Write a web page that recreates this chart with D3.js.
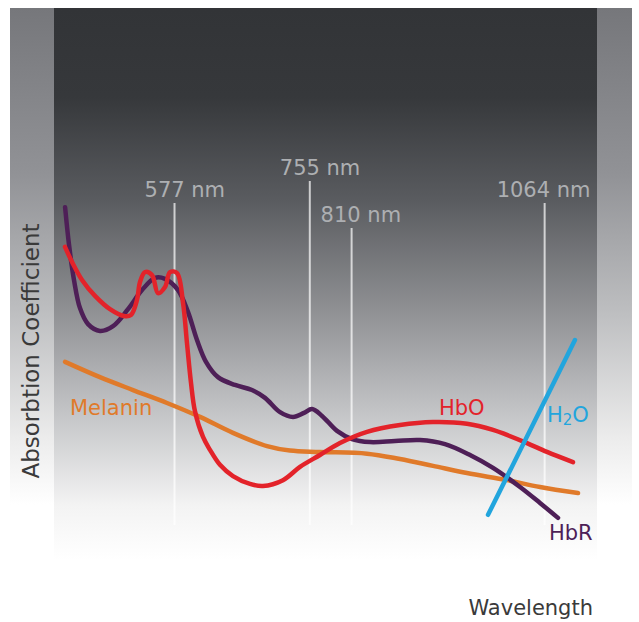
<!DOCTYPE html>
<html>
<head>
<meta charset="utf-8">
<script src="https://cdn.jsdelivr.net/npm/d3@7"></script>
<style>
  html, body { margin: 0; padding: 0; background: #fff; }
  svg text { font-family: "DejaVu Sans", sans-serif; }
</style>
</head>
<body>
<div id="chart"></div>
<script>
// wavelength marker lines (nm)
const markers = [577, 755, 810, 1064];

// absorption curves, [wavelength nm, relative absorption]
const hbr = [
  [433, 97.9], [438.2, 86.8], [444.7, 76.5], [452.6, 68.2], [463.2, 63.5], [478.9, 61.5],
  [496.1, 62.9], [515.8, 67.9], [534.2, 73.5], [551.3, 77.1], [564.5, 76.8], [581.6, 73.5],
  [594.7, 67.1], [606.6, 58.8], [618.4, 52.4], [634.2, 47.9], [656.6, 45.6], [678.9, 44.1],
  [696.1, 41.8], [715.8, 37.6], [732.9, 36.2], [747.4, 37.4], [757.9, 38.5], [771.1, 36.5],
  [790.8, 32.1], [810.5, 29.7], [834.2, 28.8], [867.1, 29.1], [900, 29.4], [932.9, 28.2],
  [965.8, 25.0], [996.1, 21.2], [1031.6, 15.6], [1057.9, 10.9], [1081.6, 6.5]
];
const hbo = [
  [432.9, 86.2], [442.1, 81.8], [455.3, 76.5], [472.4, 71.8], [492.1, 67.9], [510.5, 65.9],
  [519.7, 66.2], [527.6, 70.6], [531.6, 75.9], [538.2, 78.8], [547.4, 77.9], [555.3, 72.6],
  [564.5, 74.4], [571.1, 78.8], [580.3, 78.5], [588.2, 69.7], [593.4, 57.9], [598.7, 46.2],
  [603.9, 37.9], [614.5, 30.3], [623.7, 26.5], [636.8, 22.1], [653.9, 18.8], [676.3, 16.5],
  [693.4, 15.9], [719.7, 17.6], [742.1, 21.5], [768.4, 25.0], [794.7, 28.5], [830.3, 31.8],
  [873.7, 33.8], [917.1, 34.7], [961.8, 34.2], [996.1, 32.4], [1014.5, 30.9], [1040.8, 28.5],
  [1067.1, 25.9], [1101.3, 22.9]
];
const melanin = [
  [433, 52.4], [478.9, 47.9], [522.4, 44.1], [567.1, 40.3], [610.5, 36.2], [653.9, 31.5],
  [698.7, 27.6], [728.9, 26.3], [768.4, 25.9], [830.3, 25.4], [873.7, 23.8], [917.1, 21.8],
  [961.8, 19.7], [1014.5, 17.6], [1057.9, 15.6], [1107.9, 13.8]
];
const water = [[989.5, 7.4], [1103.9, 58.8]];

const width = 639, height = 622;

const svg = d3.select("#chart")
  .append("svg")
  .attr("width", width)
  .attr("height", height);

const x = d3.scaleLinear().domain([400, 1200]).range([40, 648]);
const y = d3.scaleLinear().domain([0, 100]).range([540, 200]);

// background gradients
const defs = svg.append("defs");
const outer = defs.append("linearGradient").attr("id", "outerG")
  .attr("x1", 0).attr("y1", 0).attr("x2", 0).attr("y2", 1);
[[0, "#76777b"], [0.3, "#919296"], [0.55, "#bdbec0"], [0.78, "#ececec"], [0.9, "#ffffff"], [1, "#ffffff"]]
  .forEach(s => outer.append("stop").attr("offset", s[0]).attr("stop-color", s[1]));
const inner = defs.append("linearGradient").attr("id", "innerG")
  .attr("x1", 0).attr("y1", 0).attr("x2", 0).attr("y2", 1);
[[0, "#323437"], [0.16, "#36383b"], [0.35, "#5a5c60"], [0.55, "#909194"], [0.75, "#c8c9cb"], [0.9, "#f3f3f3"], [1, "#ffffff"]]
  .forEach(s => inner.append("stop").attr("offset", s[0]).attr("stop-color", s[1]));

svg.append("rect").attr("x", 10).attr("y", 8).attr("width", 622).attr("height", 552)
  .attr("fill", "url(#outerG)");
svg.append("rect").attr("x", 54).attr("y", 8).attr("width", 543).attr("height", 552)
  .attr("fill", "url(#innerG)");

// marker lines + labels
const markerTop = {577: 203, 755: 181, 810: 228, 1064: 203};
const labelDx = {577: -30, 755: -30, 810: -31, 1064: -48};
svg.append("g").selectAll("line")
  .data(markers)
  .join("line")
  .attr("x1", d => x(d)).attr("x2", d => x(d))
  .attr("y1", d => markerTop[d]).attr("y2", 525)
  .attr("stroke", "#ffffff")
  .attr("stroke-opacity", 0.7)
  .attr("stroke-width", 2);
svg.append("g").selectAll("text")
  .data(markers)
  .join("text")
  .attr("x", d => x(d) + labelDx[d])
  .attr("y", d => markerTop[d] - 6)
  .attr("fill", "#adafb2")
  .attr("font-size", 21)
  .text(d => d + " nm");

// curves
const line = d3.line()
  .x(d => x(d[0]))
  .y(d => y(d[1]))
  .curve(d3.curveCatmullRom.alpha(0.5));

const series = [
  {data: melanin, color: "#e07a2a"},
  {data: hbr, color: "#4e1f57"},
  {data: hbo, color: "#e3232a"},
  {data: water, color: "#22a5dd"}
];
svg.append("g").selectAll("path")
  .data(series)
  .join("path")
  .attr("d", d => line(d.data))
  .attr("fill", "none")
  .attr("stroke", d => d.color)
  .attr("stroke-width", 4.5)
  .attr("stroke-linecap", "round")
  .attr("stroke-linejoin", "round");

// series labels
const lab = svg.append("g").attr("font-size", 21);
lab.append("text").attr("x", 70).attr("y", 415).attr("fill", "#e07a2a").text("Melanin");
lab.append("text").attr("x", 439).attr("y", 415).attr("fill", "#e3232a").text("HbO");
const h2o = lab.append("text").attr("x", 547).attr("y", 422).attr("fill", "#22a5dd");
h2o.append("tspan").text("H");
h2o.append("tspan").attr("font-size", 15).attr("dy", 3).text("2");
h2o.append("tspan").attr("dy", -3).text("O");
lab.append("text").attr("x", 549).attr("y", 540).attr("fill", "#4e1f57").text("HbR");

// axis titles
svg.append("text")
  .attr("transform", "translate(39,351) rotate(-90)")
  .attr("text-anchor", "middle")
  .attr("font-size", 23)
  .attr("fill", "#3a3a3a")
  .text("Absorbtion Coefficient");
svg.append("text")
  .attr("x", 593).attr("y", 615)
  .attr("text-anchor", "end")
  .attr("font-size", 21)
  .attr("fill", "#3a3a3a")
  .text("Wavelength");
</script>
</body>
</html>
